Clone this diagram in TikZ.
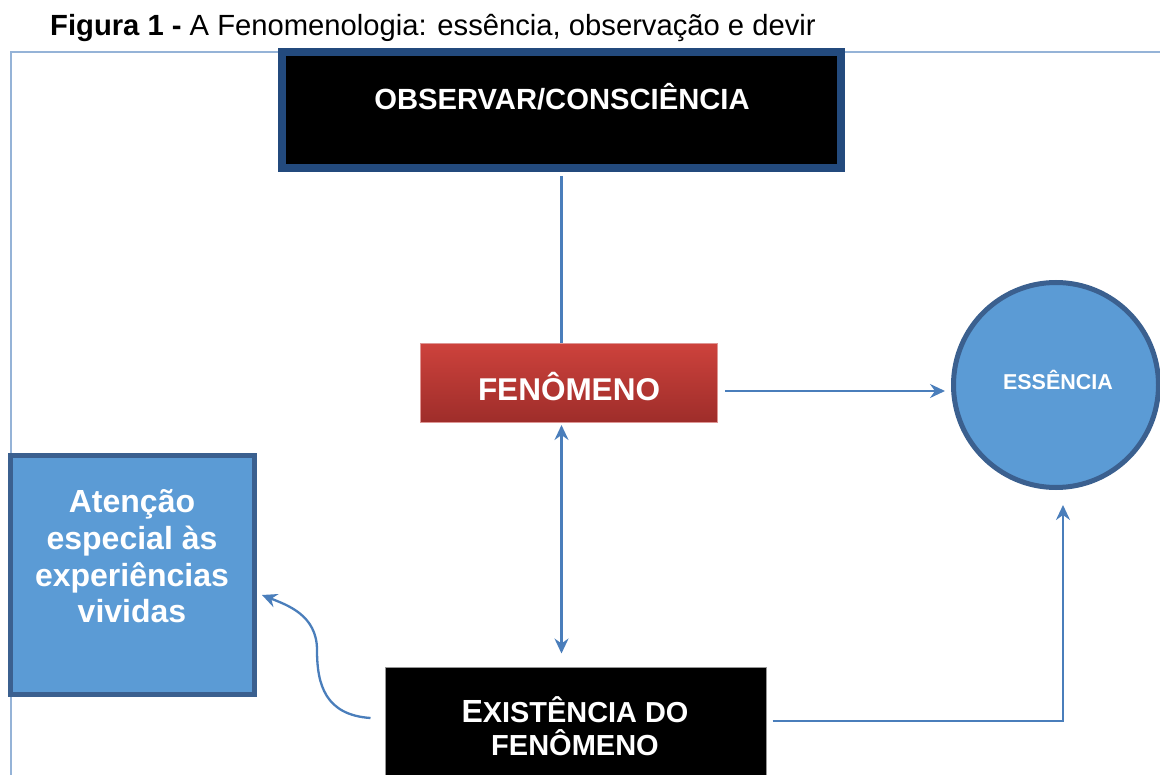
\documentclass[tikz,border=0pt]{standalone}
\usepackage{fontspec}
\setmainfont{Liberation Sans}
\usetikzlibrary{arrows.meta,calc}
\definecolor{connblue}{RGB}{74,126,187}
\definecolor{framecol}{RGB}{149,179,215}
\definecolor{topborder}{RGB}{35,74,125}
\definecolor{fillblue}{RGB}{91,155,213}
\definecolor{darkblue}{RGB}{59,96,143}
\definecolor{fentop}{RGB}{205,66,60}
\definecolor{fenbot}{RGB}{158,45,42}
\definecolor{fenborder}{RGB}{222,150,148}
\definecolor{exiborder}{RGB}{150,150,150}
\begin{document}
\begin{tikzpicture}[x=1pt,y=-1pt,
  conn/.style={draw=connblue, line width=2.3pt},
  arrowtip/.style={-{Stealth[length=15pt,width=14pt,inset=5pt]}},
  bothtips/.style={{Stealth[length=15pt,width=14pt,inset=5pt]}-{Stealth[length=15pt,width=14pt,inset=5pt]}},
  wtxt/.style={text=white, inner sep=0pt, anchor=base},
  box/.style={inner sep=0pt, rectangle}
]
\useasboundingbox (0,0) rectangle (1160,775);
% frame
\draw[draw=framecol, line width=2pt] (1160,52) -- (11,52) -- (11,775);
% title
\node[anchor=base west, inner sep=0pt, font=\fontsize{29.2}{34}\selectfont] (title) at (50,36)
  {\textbf{Figura 1 -} A Fenomenologia: essência, observação e devir};
% nodes
\node[box, draw=topborder, line width=8pt, fill=black, minimum width=559pt, minimum height=116pt] (obs) at (561.5,110) {};
\node[wtxt, font=\bfseries\fontsize{29.2}{34}\selectfont] (obst) at (562,110) {OBSERVAR/CONSCIÊNCIA};

\node[box, draw=fenborder, line width=1pt, top color=fentop, bottom color=fenbot, minimum width=297pt, minimum height=79pt] (fen) at (569,383) {};
\node[wtxt, font=\bfseries\fontsize{31.5}{36}\selectfont] (fent) at (569,401) {FENÔMENO};

\node[circle, draw=darkblue, line width=5pt, fill=fillblue, minimum size=205pt, inner sep=0pt] (ess) at (1056,385) {};
\node[wtxt, font=\bfseries\fontsize{21.5}{24}\selectfont] (esst) at (1058,390) {ESSÊNCIA};

\node[box, draw=darkblue, line width=5pt, fill=fillblue, minimum width=244pt, minimum height=239pt] (att) at (132.5,575) {};
\node[wtxt, font=\bfseries\fontsize{32}{36}\selectfont] (att1) at (132,513) {Atenção};
\node[wtxt, font=\bfseries\fontsize{32}{36}\selectfont] (att2) at (132,549) {especial às};
\node[wtxt, font=\bfseries\fontsize{32}{36}\selectfont] (att3) at (132,586) {experiências};
\node[wtxt, font=\bfseries\fontsize{32}{36}\selectfont] (att4) at (132,622) {vividas};

\node[box, draw=exiborder, line width=1pt, fill=black, minimum width=381pt, minimum height=108pt] (exi) at (575.5,721) {};
\node[wtxt, font=\bfseries] (exi1) at (575,722) {{\fontsize{32}{36}\selectfont E}{\fontsize{28.9}{34}\selectfont XISTÊNCIA DO}};
\node[wtxt, font=\bfseries\fontsize{29}{34}\selectfont] (exi2) at (575,755) {FENÔMENO};

% connectors
\draw[conn] ($(obs.south)+(0,4)$) -- (obs.south |- fen.north);
\draw[conn, bothtips] ($(obs.south |- fen.south)+(0,2)$) -- ($(obs.south |- exi.north)+(0,-13)$);
\draw[conn, arrowtip] ($(fen.east)+(7,8)$) -- ($(ess.west)+(-6,6)$);
\draw[conn, arrowtip] ($(exi.east)+(6,0)$) -| ($(ess.south)+(7,15)$);
\coordinate (bend) at ($(att.east)+(60,75)$);
\draw[conn, arrowtip] ($(exi.west)+(-14,-3)$) .. controls +(-45,-3) and +(0,35) .. (bend)
  .. controls +(0,-35) and +(25,10) .. ($(att.east)+(5,20)$);
\end{tikzpicture}
\end{document}
